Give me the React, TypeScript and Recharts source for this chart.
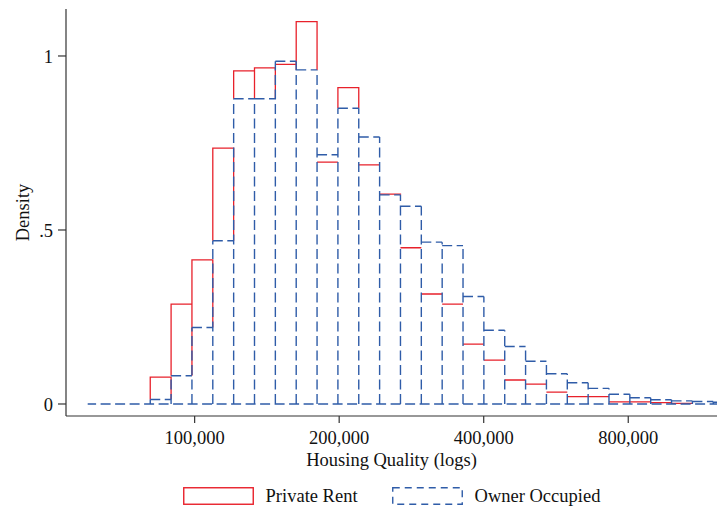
import React from 'react';
import { ComposedChart, Line, XAxis, YAxis, Legend } from 'recharts';

// histogram bins on ln(housing quality), width 0.1, first bin starts at 11.0
const BIN_START = 11.0;
const BIN_WIDTH = 0.1;

const privateRent = [
  0, 0, 0,
  0.077, 0.287, 0.414, 0.735, 0.957, 0.966, 0.976, 1.099, 0.695, 0.909,
  0.687, 0.603, 0.449, 0.316, 0.287, 0.172, 0.126, 0.069, 0.057, 0.034,
  0.021, 0.021, 0.006, 0.006, 0.004, 0.002, 0, 0,
];

const ownerOccupied = [
  0, 0, 0,
  0.013, 0.081, 0.22, 0.469, 0.877, 0.877, 0.985, 0.96, 0.716, 0.85,
  0.767, 0.601, 0.568, 0.465, 0.455, 0.309, 0.212, 0.165, 0.123, 0.087,
  0.061, 0.045, 0.028, 0.018, 0.012, 0.009, 0.007, 0.005,
];

const xTickValues = [100000, 200000, 400000, 800000];
const yTickValues = [0, 0.5, 1];
const yTickLabels = ['0', '.5', '1'];

const RED = '#e8212b';
const BLUE = '#2f5ca8';
const AXIS = '#333';
const FONT = '"Liberation Serif", "Times New Roman", serif';

type Pt = { x: number; y: number | null };

const edge = (i: number) => +(BIN_START + i * BIN_WIDTH).toFixed(2);

// blue bars: baseline, each shared bar edge once, then the bar tops
function ownerPath(h: number[]) {
  const pts: Pt[] = [{ x: edge(h.length), y: 0 }, { x: edge(0), y: 0 }, { x: edge(0), y: null }];
  for (let j = 0; j <= h.length; j++) {
    const top = Math.max(h[j - 1] ?? 0, h[j] ?? 0);
    if (top > 0) pts.push({ x: edge(j), y: 0 }, { x: edge(j), y: top }, { x: edge(j), y: null });
  }
  h.forEach((v, i) => {
    if (v > 0) pts.push({ x: edge(i), y: v }, { x: edge(i + 1), y: v }, { x: edge(i + 1), y: null });
  });
  return pts;
}

// red bars only show above the blue bar of the same bin (plus their tops)
function rentPath(r: number[], b: number[]) {
  const pts: Pt[] = [];
  r.forEach((v, i) => {
    if (!v) return;
    if (v > b[i]) {
      pts.push(
        { x: edge(i), y: b[i] },
        { x: edge(i), y: v },
        { x: edge(i + 1), y: v },
        { x: edge(i + 1), y: b[i] },
      );
    } else {
      pts.push({ x: edge(i), y: v }, { x: edge(i + 1), y: v });
    }
    pts.push({ x: edge(i + 1), y: null });
  });
  return pts;
}

const rentData = rentPath(privateRent, ownerOccupied);
const ownerData = ownerPath(ownerOccupied);

const legendItems = [
  { label: 'Private Rent', color: RED, dash: undefined as string | undefined },
  { label: 'Owner Occupied', color: BLUE, dash: '7 5' },
];

const ChartLegend = () => (
  <div
    style={{
      height: 36,
      paddingTop: 6,
      paddingLeft: 66,
      boxSizing: 'border-box',
      display: 'flex',
      justifyContent: 'center',
      alignItems: 'center',
      fontFamily: FONT,
      fontSize: 18.5,
      color: '#111',
    }}
  >
    {legendItems.map((it, i) => (
      <div key={it.label} style={{ display: 'flex', alignItems: 'center', marginLeft: i ? 34 : 0 }}>
        <svg width={71} height={18} style={{ marginRight: 12 }}>
          <rect
            x={0.75}
            y={0.75}
            width={69.5}
            height={16.5}
            fill="none"
            stroke={it.color}
            strokeWidth={1.4}
            strokeDasharray={it.dash}
          />
        </svg>
        <span>{it.label}</span>
      </div>
    ))}
  </div>
);

export default function App() {
  return (
    <div style={{ width: 717, height: 511 }}>
      <style>{'body{margin:0}'}</style>
      <ComposedChart width={717} height={511} margin={{ top: 9, right: 0, bottom: 0, left: 0 }}>
        <XAxis
          dataKey="x"
          type="number"
          domain={[10.896, 14.018]}
          allowDataOverflow
          ticks={xTickValues.map((v) => Math.log(v))}
          tickFormatter={(v: number) => Math.round(Math.exp(v)).toLocaleString('en-US')}
          interval={0}
          height={59}
          tickSize={7}
          tickMargin={8}
          axisLine={{ stroke: AXIS, strokeWidth: 1.2 }}
          tickLine={{ stroke: AXIS, strokeWidth: 1.2 }}
          tick={{ fill: '#111', fontSize: 18.5, fontFamily: FONT }}
          label={{
            value: 'Housing Quality (logs)',
            position: 'insideBottom',
            offset: 9,
            style: { fill: '#111', fontSize: 18.5, fontFamily: FONT },
          }}
        />
        <YAxis
          type="number"
          domain={[-0.0345, 1.135]}
          allowDataOverflow
          ticks={yTickValues}
          tickFormatter={(v: number) => yTickLabels[yTickValues.indexOf(v)]}
          interval={0}
          width={66}
          tickSize={8}
          tickMargin={5}
          axisLine={{ stroke: AXIS, strokeWidth: 1.2 }}
          tickLine={{ stroke: AXIS, strokeWidth: 1.2 }}
          tick={{ fill: '#111', fontSize: 18.5, fontFamily: FONT }}
          label={{
            value: 'Density',
            angle: -90,
            position: 'insideLeft',
            offset: 22,
            style: { fill: '#111', fontSize: 18.5, fontFamily: FONT, textAnchor: 'middle' },
          }}
        />
        <Legend verticalAlign="bottom" height={36} content={<ChartLegend />} />
        <Line
          data={rentData}
          dataKey="y"
          type="linear"
          stroke={RED}
          strokeWidth={1.3}
          dot={false}
          activeDot={false}
          isAnimationActive={false}
          legendType="none"
        />
        <Line
          data={ownerData}
          dataKey="y"
          type="linear"
          stroke={BLUE}
          strokeWidth={1.4}
          strokeDasharray="10 4.5"
          dot={false}
          activeDot={false}
          isAnimationActive={false}
          legendType="none"
        />
      </ComposedChart>
    </div>
  );
}
